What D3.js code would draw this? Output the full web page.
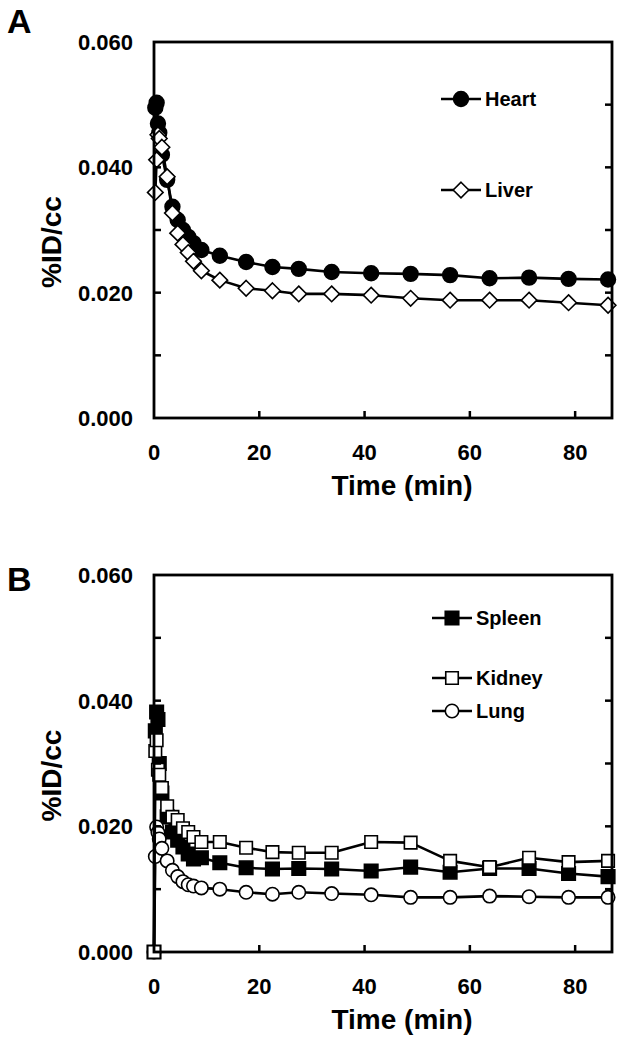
<!DOCTYPE html>
<html><head><meta charset="utf-8">
<script src="https://cdn.jsdelivr.net/npm/d3@7"></script>
<style>
html,body{margin:0;padding:0;background:#fff;}
text{font-family:"Liberation Sans",Arial,Helvetica,sans-serif;font-weight:bold;fill:#000;}
</style></head>
<body>
<svg id="chart" width="624" height="1044"></svg>
<script>
// ---- data ----
const timeA = [0.25, 0.5, 0.75, 1.0, 1.5, 2.5, 3.5, 4.5, 5.5, 6.5, 7.5, 9.0, 12.5, 17.5, 22.5, 27.5, 33.75, 41.25, 48.75, 56.25, 63.75, 71.25, 78.75, 86.25];
const heart = [0.0495, 0.0503, 0.0470, 0.0455, 0.0420, 0.0380, 0.0337, 0.0316, 0.0300, 0.0289, 0.0279, 0.0268, 0.0259, 0.0249, 0.0241, 0.0238, 0.0233, 0.0231, 0.0230, 0.0228, 0.0223, 0.0224, 0.0222, 0.0221];
const liver = [0.0360, 0.0412, 0.0452, 0.0446, 0.0432, 0.0385, 0.0327, 0.0295, 0.0277, 0.0264, 0.0250, 0.0235, 0.0220, 0.0207, 0.0203, 0.0198, 0.0198, 0.0196, 0.0191, 0.0188, 0.0188, 0.0188, 0.0184, 0.0180];

const timeB = [0, 0.25, 0.5, 0.75, 1.0, 1.5, 2.5, 3.5, 4.5, 5.5, 6.5, 7.5, 9.0, 12.5, 17.5, 22.5, 27.5, 33.75, 41.25, 48.75, 56.25, 63.75, 71.25, 78.75, 86.25];
const spleen = [0, 0.0352, 0.0382, 0.0370, 0.0300, 0.0253, 0.0215, 0.0191, 0.0178, 0.0167, 0.0156, 0.0148, 0.0150, 0.0142, 0.0134, 0.0132, 0.0133, 0.0132, 0.0129, 0.0135, 0.0127, 0.0133, 0.0133, 0.0125, 0.0120];
const kidney = [0, 0.0320, 0.0337, 0.0290, 0.0282, 0.0261, 0.0232, 0.0215, 0.0210, 0.0197, 0.0191, 0.0183, 0.0175, 0.0175, 0.0166, 0.0159, 0.0158, 0.0158, 0.0175, 0.0174, 0.0145, 0.0135, 0.0150, 0.0143, 0.0145];
const lung = [0, 0.0152, 0.0199, 0.0190, 0.0180, 0.0165, 0.0145, 0.0130, 0.0120, 0.0112, 0.0107, 0.0105, 0.0102, 0.0100, 0.0095, 0.0092, 0.0095, 0.0093, 0.0091, 0.0087, 0.0087, 0.0089, 0.0088, 0.0087, 0.0087];

const xTickValues = [0, 20, 40, 60, 80];
const yLabelValues = [0, 0.02, 0.04, 0.06];
const yTickValues = [0, 0.01, 0.02, 0.03, 0.04, 0.05, 0.06];
const xTitle = "Time (min)";
const yTitle = "%ID/cc";

// ---- drawing ----
const svg = d3.select("#chart");
const L = 154, R = 612;
const x = d3.scaleLinear().domain([0, 87]).range([L, R]);

function markerPath(kind) {
  if (kind === "circle") return d3.symbol().type(d3.symbolCircle).size(Math.PI * 7.4 * 7.4)();
  if (kind === "smallcircle") return d3.symbol().type(d3.symbolCircle).size(Math.PI * 6.7 * 6.7)();
  if (kind === "square") return d3.symbol().type(d3.symbolSquare).size(13.5 * 13.5)();
  if (kind === "smallsquare") return d3.symbol().type(d3.symbolSquare).size(12.5 * 12.5)();
  if (kind === "diamond") { const r = 7.8; return `M0,${-r}L${r},0L0,${r}L${-r},0Z`; }
}

function panel(opts) {
  const y = d3.scaleLinear().domain([0, 0.06]).range([opts.bottom, opts.top]);
  const g = svg.append("g");

  g.append("text").attr("x", 7).attr("y", opts.letterY).attr("font-size", 34).text(opts.letter);

  g.selectAll(".yl").data(yLabelValues).enter().append("text")
    .attr("x", 133).attr("y", d => y(d)).attr("dy", "0.36em")
    .attr("text-anchor", "end").attr("font-size", 22)
    .text(d3.format(".3f"));
  g.selectAll(".xl").data(xTickValues).enter().append("text")
    .attr("x", d => x(d)).attr("y", opts.bottom + 42)
    .attr("text-anchor", "middle").attr("font-size", 22)
    .text(d => d);
  g.append("text").attr("x", 402).attr("y", opts.bottom + 77)
    .attr("text-anchor", "middle").attr("font-size", 28).text(xTitle);
  const cy = (opts.top + opts.bottom) / 2 + 12;
  g.append("text").attr("transform", `translate(61,${cy}) rotate(-90)`)
    .attr("text-anchor", "middle").attr("font-size", 28).text(yTitle);

  const line = d3.line().x(d => x(d[0])).y(d => y(d[1]));
  opts.series.forEach(s => {
    const pts = opts.time.map((t, i) => [t, s.values[i]]);
    g.append("path").attr("d", line(pts)).attr("fill", "none")
      .attr("stroke", "#000").attr("stroke-width", 2.6).attr("stroke-linejoin", "round");
    g.selectAll(null).data(pts).enter().append("path")
      .attr("transform", d => `translate(${x(d[0])},${y(d[1])})`)
      .attr("d", markerPath(s.marker))
      .attr("fill", s.fill).attr("stroke", "#000").attr("stroke-width", 1.6);
  });

  g.append("rect").attr("x", L).attr("y", opts.top).attr("width", R - L).attr("height", opts.bottom - opts.top)
    .attr("fill", "none").attr("stroke", "#000").attr("stroke-width", 2.8);
  const tk = 7;
  g.selectAll(".xt").data(xTickValues.filter(d => d > 0)).enter().append("line")
    .attr("x1", d => x(d)).attr("x2", d => x(d)).attr("y1", opts.bottom).attr("y2", opts.bottom - tk)
    .attr("stroke", "#000").attr("stroke-width", 2.5);
  const yt = yTickValues.filter(d => d > 0 && d < 0.06);
  g.selectAll(".ytl").data(yt).enter().append("line")
    .attr("x1", L).attr("x2", L + tk).attr("y1", d => y(d)).attr("y2", d => y(d))
    .attr("stroke", "#000").attr("stroke-width", 2.5);
  g.selectAll(".ytr").data(yt).enter().append("line")
    .attr("x1", R).attr("x2", R - tk).attr("y1", d => y(d)).attr("y2", d => y(d))
    .attr("stroke", "#000").attr("stroke-width", 2.5);

  opts.series.forEach(s => {
    const ly = s.legendY;
    g.append("line").attr("x1", opts.legX).attr("x2", opts.legX + 40).attr("y1", ly).attr("y2", ly)
      .attr("stroke", "#000").attr("stroke-width", 2.6);
    g.append("path").attr("transform", `translate(${opts.legX + 20},${ly})`)
      .attr("d", markerPath(s.marker)).attr("fill", s.fill).attr("stroke", "#000").attr("stroke-width", 1.6);
    g.append("text").attr("x", opts.legX + 44).attr("y", ly).attr("dy", "0.36em")
      .attr("font-size", 20).text(s.name);
  });
}

panel({
  letter: "A", letterY: 33, top: 42, bottom: 418, time: timeA, legX: 441,
  series: [
    {name: "Heart", values: heart, marker: "circle", fill: "#000", legendY: 99},
    {name: "Liver", values: liver, marker: "diamond", fill: "#fff", legendY: 190}
  ]
});
panel({
  letter: "B", letterY: 591, top: 575, bottom: 952, time: timeB, legX: 432,
  series: [
    {name: "Spleen", values: spleen, marker: "square", fill: "#000", legendY: 618},
    {name: "Lung", values: lung, marker: "smallcircle", fill: "#fff", legendY: 711},
    {name: "Kidney", values: kidney, marker: "smallsquare", fill: "#fff", legendY: 678}
  ]
});
</script>
</body></html>
